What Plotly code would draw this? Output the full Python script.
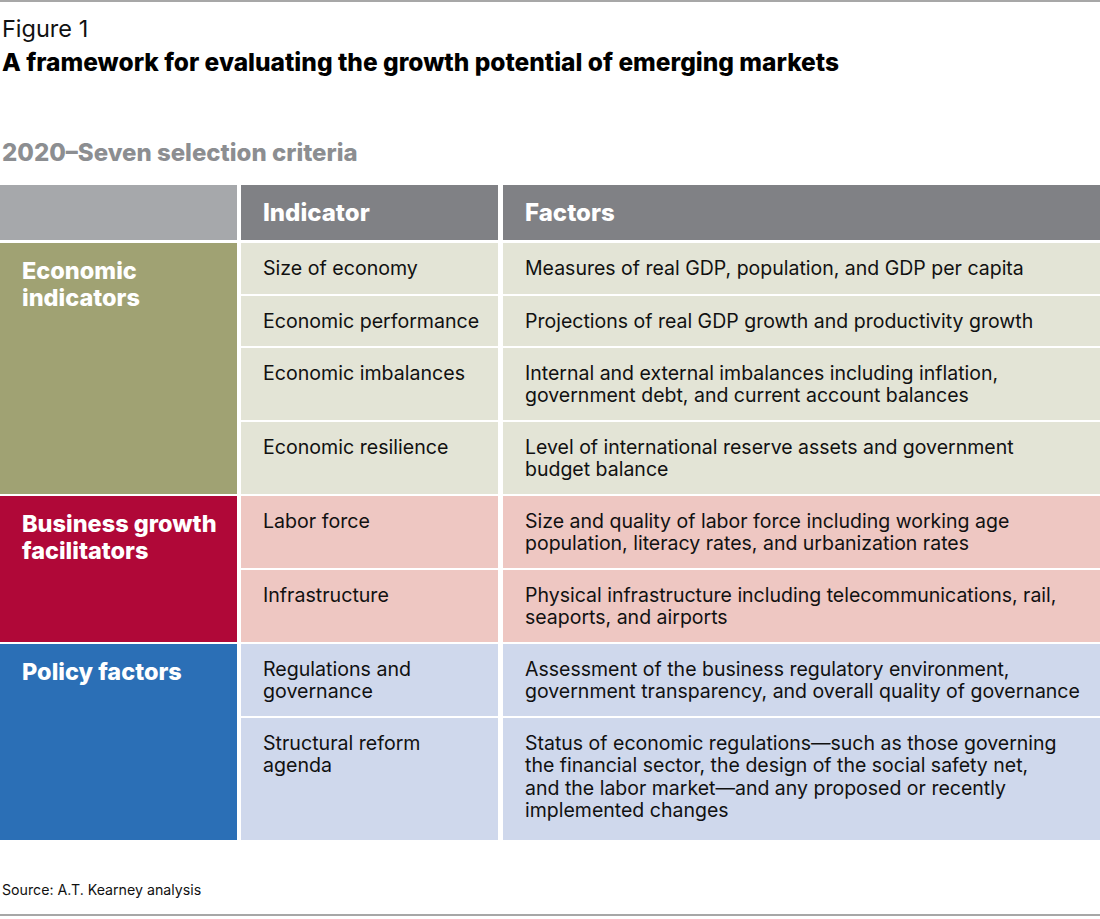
import plotly.graph_objects as go

# table content
groups = ["Economic<br>indicators", "Business growth<br>facilitators", "Policy factors"]
group_rows = [4, 2, 2]
headers = ["", "Indicator", "Factors"]
indicators = [
    "Size of economy",
    "Economic performance",
    "Economic imbalances",
    "Economic resilience",
    "Labor force",
    "Infrastructure",
    "Regulations and<br>governance",
    "Structural reform<br>agenda",
]
factors = [
    "Measures of real GDP, population, and GDP per capita",
    "Projections of real GDP growth and productivity growth",
    "Internal and external imbalances including inflation,<br>government debt, and current account balances",
    "Level of international reserve assets and government<br>budget balance",
    "Size and quality of labor force including working age<br>population, literacy rates, and urbanization rates",
    "Physical infrastructure including telecommunications, rail,<br>seaports, and airports",
    "Assessment of the business regulatory environment,<br>government transparency, and overall quality of governance",
    "Status of economic regulations\u2014such as those governing<br>the financial sector, the design of the social safety net,<br>and the labor market\u2014and any proposed or recently<br>implemented changes",
]

# styling / layout
dark = ["#a0a273", "#b00838", "#2b6fb6"]
light = ["#e3e4d6", "#eec7c2", "#cfd8ec"]
head_cols = ["#a6a8ab", "#808185", "#808185"]
cols = [(0, 237), (241, 498), (503, 1100)]
head_top, head_bot = 185, 240
first_top = 243
pitch = [53, 52, 74, 74, 74, 74, 74, 124]
gap = 2
pad = 19.5
FONT = "Inter"
W, H = 1100, 919

fig = go.Figure()
shapes = []
ann = []

def text(x, y, s, size, color="#111", weight=400, anchor="middle"):
    ann.append(dict(x=x, y=y, text=s, showarrow=False, xanchor="left", yanchor=anchor,
                    xref="x", yref="y",
                    font=dict(family=FONT, size=size, color=color, weight=weight)))

def rect(x0, y0, x1, y1, c):
    shapes.append(dict(type="rect", x0=x0, x1=x1, y0=y0, y1=y1, xref="x", yref="y",
                       fillcolor=c, line=dict(width=0), layer="below"))

# header row
for (x0, x1), c, h in zip(cols, head_cols, headers):
    rect(x0, head_top, x1, head_bot, c)
    if h:
        text(x0 + pad, (head_top + head_bot) / 2, h, 24, "white", 800)

# body rows
tops = []
t = first_top
for p in pitch:
    tops.append(t)
    t += p

r = 0
for g, (name, n) in enumerate(zip(groups, group_rows)):
    g_top = tops[r]
    g_bot = tops[r + n - 1] + pitch[r + n - 1] - gap
    rect(cols[0][0], g_top, cols[0][1], g_bot, dark[g])
    for k, line in enumerate(name.split("<br>")):
        text(cols[0][0] + pad, g_top + 27.5 + 27 * k, line, 23.5, "white", 800)
    for i in range(r, r + n):
        y0 = tops[i]
        y1 = y0 + pitch[i] - gap
        rect(cols[1][0], y0, cols[1][1], y1, light[g])
        rect(cols[2][0], y0, cols[2][1], y1, light[g])
        for k, line in enumerate(indicators[i].split("<br>")):
            text(cols[1][0] + pad, y0 + 24.5 + 22.5 * k, line, 19.6)
        for k, line in enumerate(factors[i].split("<br>")):
            text(cols[2][0] + pad, y0 + 24.5 + 22.5 * k, line, 19.5)
    r += n

# titles and source
text(0, 28, "Figure 1", 23.5)
text(0, 62, "A framework for evaluating the growth potential of emerging markets", 24.5, "#000", 800)
text(0, 152, "2020\u2013Seven selection criteria", 24, "#8c8e91", 800)
text(0, 889, "Source: A.T. Kearney analysis", 14.2)

for y in (1, 915):
    shapes.append(dict(type="line", x0=0, x1=W, y0=y, y1=y, xref="x", yref="y",
                       line=dict(color="#8a8a8a", width=1.5)))

fig.update_layout(
    width=W, height=H,
    margin=dict(l=0, r=0, t=0, b=0),
    paper_bgcolor="white", plot_bgcolor="white",
    shapes=shapes, annotations=ann,
    xaxis=dict(range=[0, W], visible=False, fixedrange=True),
    yaxis=dict(range=[H, 0], visible=False, fixedrange=True),
    showlegend=False,
)
fig.write_html("out.html", config={"displayModeBar": False},
               post_script="document.body.style.margin='0';document.body.style.overflow='hidden';")
